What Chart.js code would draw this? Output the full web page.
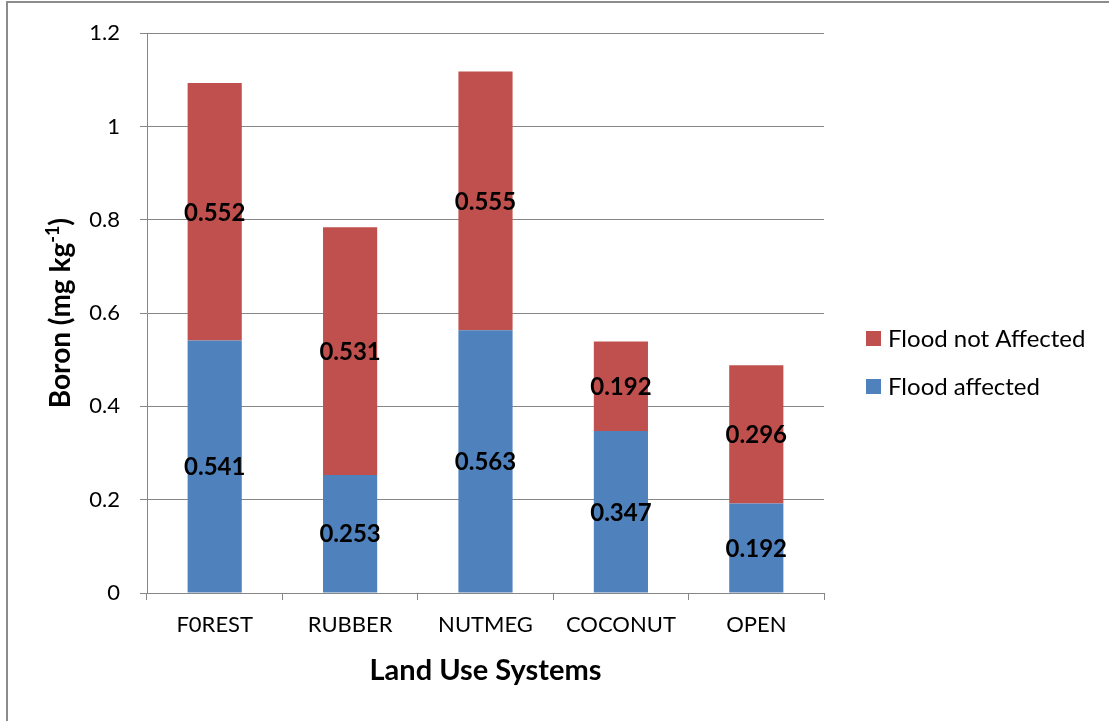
<!DOCTYPE html>
<html>
<head>
<meta charset="utf-8">
<title>Boron by land use system</title>
<script src="https://cdn.jsdelivr.net/npm/chart.js@4.4.1/dist/chart.umd.min.js"></script>
<style>
  html, body { margin: 0; padding: 0; background: #ffffff; }
  #wrap { width: 1109px; height: 721px; position: relative; }
  canvas { display: block; }
</style>
</head>
<body>
<div id="wrap"><canvas id="chart" width="1109" height="721"></canvas></div>
<script>
// Land use systems on the category axis
const categories = ['F0REST', 'RUBBER', 'NUTMEG', 'COCONUT', 'OPEN'];
// Boron (mg/kg) in each land use system
const floodAffected = [0.541, 0.253, 0.563, 0.347, 0.192];
const floodNotAffected = [0.552, 0.531, 0.555, 0.192, 0.296];
// Series names
const seriesNames = ['Flood affected', 'Flood not Affected'];
// Value axis ticks
const yTicks = [0, 0.2, 0.4, 0.6, 0.8, 1, 1.2];

const BLUE = '#4F81BD';
const RED = '#C0504D';
const AXIS = '#868686';
const FONT = 'Lato, "Open Sans", sans-serif';

// White page with a thin frame on the left and top edges
const framePlugin = {
  id: 'frame',
  beforeDraw(chart) {
    const ctx = chart.ctx;
    ctx.save();
    ctx.fillStyle = '#ffffff';
    ctx.fillRect(0, 0, chart.width, chart.height);
    ctx.strokeStyle = '#8c8c8c';
    ctx.lineWidth = 2;
    ctx.beginPath();
    ctx.moveTo(7, chart.height);
    ctx.lineTo(7, 2);
    ctx.lineTo(chart.width, 2);
    ctx.stroke();
    ctx.restore();
  }
};

// Value printed in the middle of each stacked segment
const segmentLabels = {
  id: 'segmentLabels',
  afterDatasetsDraw(chart) {
    const ctx = chart.ctx;
    ctx.save();
    ctx.font = 'bold 24px ' + FONT;
    ctx.fillStyle = '#000000';
    ctx.textAlign = 'center';
    ctx.textBaseline = 'middle';
    chart.data.datasets.forEach((ds, di) => {
      const meta = chart.getDatasetMeta(di);
      meta.data.forEach((bar, i) => {
        const v = ds.data[i];
        const midY = (bar.y + bar.base) / 2;
        ctx.fillText(v.toFixed(3), bar.x, midY + 1);
      });
    });
    ctx.restore();
  }
};

// Axis titles (with superscript unit) and the series key on the right
const titlesAndKey = {
  id: 'titlesAndKey',
  afterDraw(chart) {
    const ctx = chart.ctx;
    const area = chart.chartArea;
    ctx.save();
    ctx.fillStyle = '#000000';

    // Category axis title
    ctx.font = 'bold 29px ' + FONT;
    ctx.textAlign = 'center';
    ctx.textBaseline = 'alphabetic';
    ctx.fillText('Land Use Systems', (area.left + area.right) / 2, 680);

    // Value axis title: "Boron (mg kg" + superscript "-1" + ")"
    const big = 'bold 28px ' + FONT;
    const small = 'bold 18px ' + FONT;
    const p1 = 'Boron (mg kg', p2 = '-1', p3 = ')';
    ctx.font = big; const w1 = ctx.measureText(p1).width; const w3 = ctx.measureText(p3).width;
    ctx.font = small; const w2 = ctx.measureText(p2).width;
    const total = w1 + w2 + w3;
    ctx.translate(70, (area.top + area.bottom) / 2);
    ctx.rotate(-Math.PI / 2);
    ctx.textAlign = 'left';
    let x = -total / 2;
    ctx.font = big; ctx.fillText(p1, x, 0); x += w1;
    ctx.font = small; ctx.fillText(p2, x, -11); x += w2;
    ctx.font = big; ctx.fillText(p3, x, 0);
    ctx.setTransform(1, 0, 0, 1, 0, 0);

    // Series key, top entry is the upper stack segment
    const rows = [
      { name: seriesNames[1], color: RED, cy: 338.5 },
      { name: seriesNames[0], color: BLUE, cy: 386.5 }
    ];
    ctx.font = '24px ' + FONT;
    ctx.textAlign = 'left';
    ctx.textBaseline = 'middle';
    rows.forEach(r => {
      ctx.fillStyle = r.color;
      ctx.fillRect(866, r.cy - 7.5, 15, 15);
      ctx.fillStyle = '#000000';
      ctx.fillText(r.name, 888, r.cy + 1);
    });
    ctx.restore();
  }
};

new Chart(document.getElementById('chart'), {
  type: 'bar',
  data: {
    labels: categories,
    datasets: [
      { label: seriesNames[0], data: floodAffected, backgroundColor: BLUE, borderWidth: 0 },
      { label: seriesNames[1], data: floodNotAffected, backgroundColor: RED, borderWidth: 0 }
    ]
  },
  options: {
    responsive: false,
    devicePixelRatio: 1,
    animation: false,
    events: [],
    layout: { padding: { top: 31, right: 285, bottom: 0, left: 0 } },
    datasets: { bar: { barPercentage: 0.4, categoryPercentage: 1.0 } },
    plugins: {
      legend: { display: false },
      tooltip: { enabled: false },
      title: { display: false }
    },
    scales: {
      x: {
        stacked: true,
        afterFit(scale) { scale.height = 128; },
        grid: { drawOnChartArea: false, drawTicks: true, tickLength: 7, color: AXIS, offset: true },
        border: { display: true, color: AXIS, width: 1 },
        ticks: { color: '#000000', font: { family: FONT, size: 22 }, padding: 12, maxRotation: 0 }
      },
      y: {
        stacked: true,
        min: 0,
        max: 1.2,
        afterFit(scale) { scale.width = 147; },
        afterBuildTicks(scale) { scale.ticks = yTicks.map(v => ({ value: v })); },
        grid: { color: AXIS, drawTicks: true, tickLength: 7 },
        border: { display: true, color: AXIS, width: 1 },
        ticks: {
          color: '#000000',
          font: { family: FONT, size: 22 },
          padding: 20,
          callback: v => String(Number(v.toFixed(1)))
        }
      }
    }
  },
  plugins: [framePlugin, segmentLabels, titlesAndKey]
});
</script>
</body>
</html>
